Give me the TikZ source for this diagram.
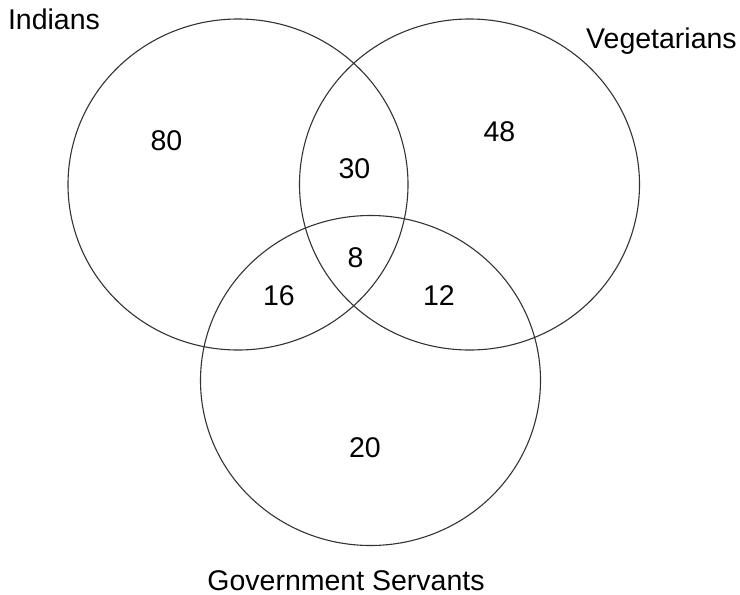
\documentclass[tikz,border=0pt]{standalone}
\usepackage{fontspec}
\setmainfont{Liberation Sans}

\begin{document}
\begin{tikzpicture}[x=1pt,y=-1pt,
	set/.style={draw=black!80, line width=1.1pt},
	lbl/.style={inner sep=0pt, anchor=base, font=\fontsize{28.5}{34}\selectfont}]
	\useasboundingbox (0,0) rectangle (740,595);
	\draw[set] (238,184.5) ellipse (170 and 165.5);
	\draw[set] (469.5,184.5) ellipse (170 and 165.5);
	\draw[set] (370.5,380.5) ellipse (170 and 165);
	\node[lbl] (indians) at (54,29) {Indians};
	\node[lbl] (veg) at (661.5,48) {Vegetarians};
	\node[lbl] (govt) at (346,590) {Government Servants};
	\node[lbl] (onlyI) at (166.5,150) {80};
	\node[lbl] (IV) at (354.5,178) {30};
	\node[lbl] (onlyV) at (499.5,141.5) {48};
	\node[lbl] (all) at (355.5,267.5) {8};
	\node[lbl] (IG) at (279,305) {16};
	\node[lbl] (VG) at (439,305) {12};
	\node[lbl] (onlyG) at (365,457.5) {20};
\end{tikzpicture}
\end{document}
